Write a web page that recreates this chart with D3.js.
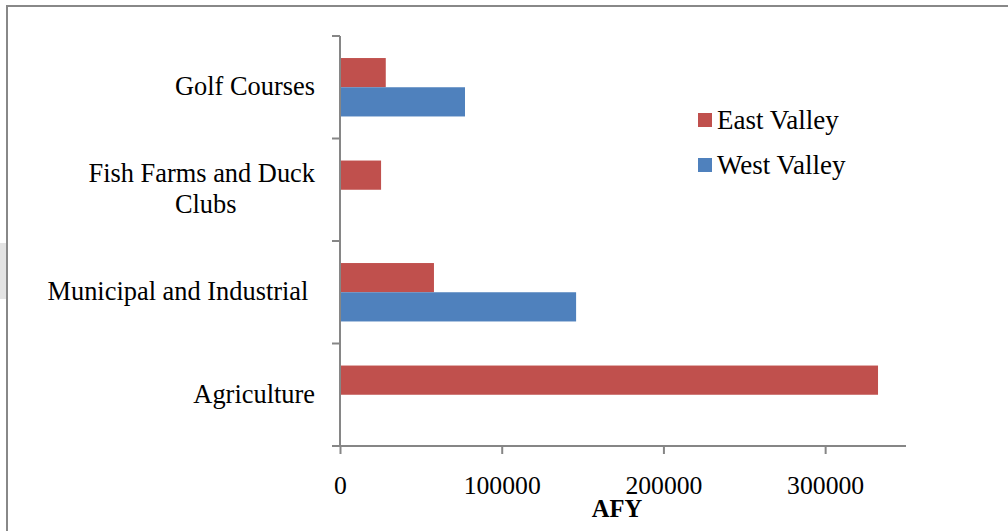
<!DOCTYPE html>
<html><head><meta charset="utf-8">
<script src="https://cdn.jsdelivr.net/npm/d3@7"></script>
<style>body{margin:0;background:#fff}svg{display:block}text{font-family:"Liberation Serif","Times New Roman",serif;fill:#000;white-space:pre}</style>
</head><body>
<svg id="c" width="1008" height="531"></svg>
<script>
const categories = ["Golf Courses", "Fish Farms and Duck Clubs", "Municipal and Industrial", "Agriculture"];
const series = ["East Valley", "West Valley"];
const eastValley = [28300, 25400, 58100, 332700];
const westValley = [77300, 0, 146000, 600];
const xTicks = [0, 100000, 200000, 300000];
const colors = ["#C0504D", "#4F81BD"];
const labelLines = [["Golf Courses"], ["Fish Farms and Duck", "Clubs"], ["Municipal and Industrial "], ["Agriculture"]];

const svg = d3.select("#c");
// page decorations
svg.append("rect").attr("x",0).attr("y",243).attr("width",6).attr("height",56).attr("fill","#e3e3e3");
svg.append("path").attr("d","M7,531 V6 H1008").attr("fill","none").attr("stroke","#888").attr("stroke-width",2);

const pL = 340, pR = 906, pT = 36, pB = 446;
const x = d3.scaleLinear().domain([0, 350000]).range([pL, pR]);
const y = d3.scaleBand().domain(categories).range([pT, pB]).paddingInner(0.43).paddingOuter(0.215);
const yIn = d3.scaleBand().domain(series).range([0, y.bandwidth()]);
const vals = [eastValley, westValley];

const g = svg.append("g");
categories.forEach((c, i) => {
  series.forEach((s, j) => {
    g.append("rect").attr("x", x(0)).attr("y", y(c) + yIn(s))
      .attr("width", x(vals[j][i]) - x(0)).attr("height", yIn.bandwidth())
      .attr("fill", colors[j]);
  });
});

// y axis line and category ticks
const axisColor = "#868686";
const step = (pB - pT) / categories.length;
svg.append("line").attr("x1",pL).attr("x2",pL).attr("y1",pT).attr("y2",pB+1).attr("stroke",axisColor).attr("stroke-width",2);
for (let k = 0; k <= categories.length; k++) {
  svg.append("line").attr("x1",pL-8).attr("x2",pL).attr("y1",pT+k*step).attr("y2",pT+k*step).attr("stroke",axisColor).attr("stroke-width",2);
}
// x axis
const xAxis = d3.axisBottom(x).tickValues(xTicks).tickSize(8).tickSizeOuter(0).tickFormat(d3.format("d"));
const ax = svg.append("g").attr("transform",`translate(0,${pB})`).call(xAxis);
ax.select(".domain").attr("d",`M${pL-8},0H${pR}`).attr("stroke",axisColor).attr("stroke-width",2);
ax.selectAll(".tick line").attr("stroke",axisColor).attr("stroke-width",2);
ax.selectAll(".tick text").attr("y",48).attr("dy",0).style("font-size","25.7px").style("font-family","'Liberation Serif',serif").attr("fill","#000");

svg.append("text").attr("x",617).attr("y",517).attr("text-anchor","middle").style("font-size","24.5px").style("font-weight","bold").text("AFY");

// category labels
const fs = "26.4px";
categories.forEach((c, i) => {
  const lines = labelLines[i];
  const cy = y(c) + y.bandwidth()/2;
  const lh = 31;
  const y0 = cy - (lines.length-1)*lh/2 + 8;
  if (lines.length === 1) {
    svg.append("text").attr("x",315).attr("y",y0).attr("text-anchor","end").style("font-size",fs).text(lines[0]);
  } else {
    const t0 = svg.append("text").attr("x",315).attr("y",y0).attr("text-anchor","end").style("font-size",fs).text(lines[0]);
    const w = t0.node().getComputedTextLength();
    const mid = 315 - w/2;
    for (let k = 1; k < lines.length; k++) {
      svg.append("text").attr("x",mid + 4).attr("y",y0+k*lh).attr("text-anchor","middle").style("font-size",fs).text(lines[k]);
    }
  }
});

// legend
series.forEach((s, j) => {
  const ly = 113 + j*45;
  svg.append("rect").attr("x",698).attr("y",ly).attr("width",14).attr("height",14).attr("fill",colors[j]);
  svg.append("text").attr("x",717).attr("y",ly+16).style("font-size","27px").text(s);
});
</script>
</body></html>
